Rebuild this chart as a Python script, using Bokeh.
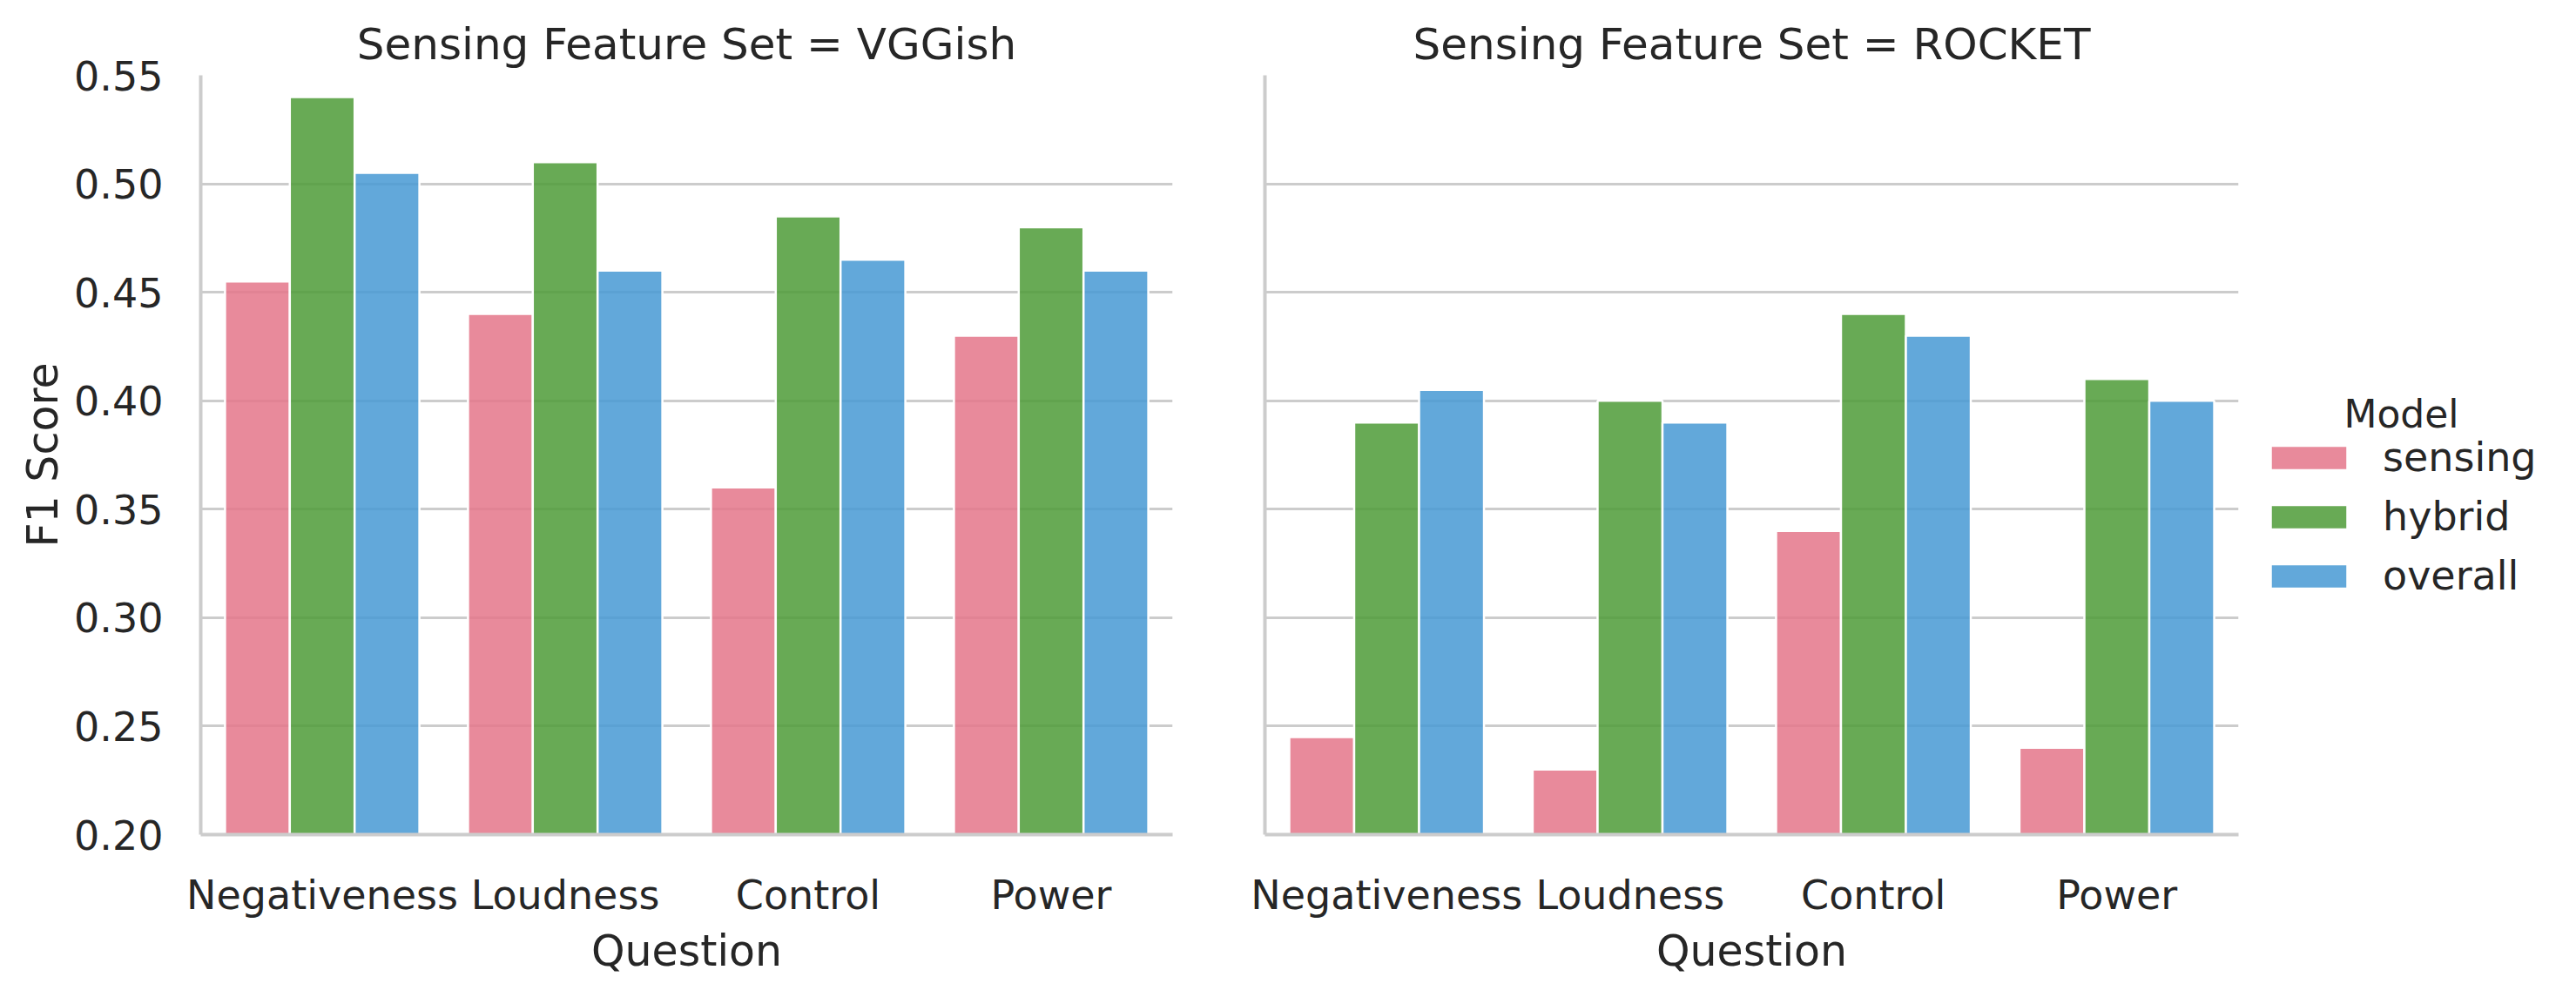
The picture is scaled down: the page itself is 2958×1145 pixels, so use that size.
from bokeh.plotting import figure
from bokeh.layouts import row
from bokeh.models import (ColumnDataSource, FactorRange, FixedTicker, Legend,
                          LegendItem, Label, Range1d)
from bokeh.transform import dodge
from bokeh.embed import file_html
from bokeh.resources import INLINE

# ---------------- data ----------------
questions = ["Negativeness", "Loudness", "Control", "Power"]
models = ["sensing", "hybrid", "overall"]
feature_sets = ["VGGish", "ROCKET"]

vggish_sensing = [0.455, 0.44, 0.36, 0.43]
vggish_hybrid = [0.54, 0.51, 0.485, 0.48]
vggish_overall = [0.505, 0.46, 0.465, 0.46]

rocket_sensing = [0.245, 0.23, 0.34, 0.24]
rocket_hybrid = [0.39, 0.40, 0.44, 0.41]
rocket_overall = [0.405, 0.39, 0.43, 0.40]

y_ticks = [0.20, 0.25, 0.30, 0.35, 0.40, 0.45, 0.50, 0.55]
y_tick_labels = ["0.20", "0.25", "0.30", "0.35", "0.40", "0.45", "0.50", "0.55"]

legend_title = "Model"
model_colors = ["#e4768a", "#4e9b37", "#4799d3"]

# ---------------- style ----------------
FONT = "DejaVu Sans"
TXT = "#262626"
GRID = "#cccccc"
TICK_FS = "46px"
LABEL_FS = "49px"
TITLE_FS = "50px"
H = 1125
B_TOP = 86
B_BOTTOM = 167

data = {
    "VGGish": (vggish_sensing, vggish_hybrid, vggish_overall),
    "ROCKET": (rocket_sensing, rocket_hybrid, rocket_overall),
}

bar_w = 0.8 / len(models)
offsets = [(i - (len(models) - 1) / 2) * bar_w for i in range(len(models))]


def make_panel(fs, first):
    s, h, o = data[fs]
    src = ColumnDataSource(dict(question=questions, sensing=s, hybrid=h, overall=o))
    if first:
        w, bl, br = 1402, 230, 56
    else:
        w, bl, br = 1188, 50, 20
    p = figure(x_range=FactorRange(*questions, range_padding=0),
               y_range=Range1d(0.2, 0.55),
               width=w, height=H,
               min_border_left=bl, min_border_right=br,
               min_border_top=B_TOP, min_border_bottom=B_BOTTOM,
               output_backend="svg", toolbar_location=None,
               title="Sensing Feature Set = " + fs)
    p.title.align = "center"
    p.title.text_font = FONT
    p.title.text_font_size = TITLE_FS
    p.title.text_font_style = "normal"
    p.title.text_color = TXT
    p.title.standoff = 14

    for i, m in enumerate(models):
        p.vbar(x=dodge("question", offsets[i], range=p.x_range), top=m, bottom=0,
               width=bar_w, source=src,
               fill_color=model_colors[i], fill_alpha=0.85,
               line_color="white", line_width=2.5)

    p.outline_line_color = None
    p.background_fill_color = "white"
    p.border_fill_color = "white"
    p.xgrid.grid_line_color = None
    p.ygrid.ticker = FixedTicker(ticks=y_ticks)
    p.ygrid.grid_line_color = GRID
    p.ygrid.grid_line_width = 3

    for ax in (p.xaxis[0], p.yaxis[0]):
        ax.axis_line_color = GRID
        ax.axis_line_width = 4
        ax.major_tick_line_color = None
        ax.minor_tick_line_color = None
        ax.major_tick_out = 0
        ax.major_tick_in = 0
        ax.major_label_text_font = FONT
        ax.major_label_text_font_size = TICK_FS
        ax.major_label_text_color = TXT
        ax.axis_label_text_font = FONT
        ax.axis_label_text_font_size = LABEL_FS
        ax.axis_label_text_font_style = "normal"
        ax.axis_label_text_color = TXT

    p.xaxis.axis_label = "Question"
    p.xaxis.major_label_standoff = 42
    p.xaxis.axis_label_standoff = 6

    p.yaxis.ticker = FixedTicker(ticks=y_ticks)
    if first:
        p.yaxis.major_label_overrides = {t: l for t, l in zip(y_ticks, y_tick_labels)}
        p.yaxis.axis_label = "F1 Score"
        p.yaxis.major_label_standoff = 43
        p.yaxis.axis_label_standoff = 4
    else:
        p.yaxis.major_label_overrides = {t: "" for t in y_ticks}
        p.yaxis.major_label_text_font_size = "0px"
        p.yaxis.major_label_standoff = 0
    return p


p1 = make_panel("VGGish", True)
p2 = make_panel("ROCKET", False)

# ---------------- legend panel ----------------
p3 = figure(width=352, height=H, x_range=Range1d(0, 1), y_range=Range1d(0, 1),
            x_axis_type=None, y_axis_type=None,
            min_border_left=0, min_border_right=0,
            min_border_top=B_TOP, min_border_bottom=B_BOTTOM,
            output_backend="svg", toolbar_location=None)
p3.outline_line_color = None
p3.grid.visible = False
p3.background_fill_color = "white"
p3.border_fill_color = "white"

items = []
for i, m in enumerate(models):
    # legend proxy glyph, kept outside the visible range
    r = p3.vbar(x="x", top="top", width=0.1,
                source=ColumnDataSource(dict(x=[-5.0], top=[0.0])),
                fill_color=model_colors[i], fill_alpha=0.85,
                line_color="white", line_width=2.5)
    items.append(LegendItem(label=m, renderers=[r]))

legend = Legend(items=items, location=(6, 270), orientation="vertical",
                glyph_width=110, glyph_height=35, label_standoff=30,
                label_height=54, spacing=14, padding=0, margin=0,
                border_line_color=None, background_fill_alpha=0,
                label_text_font=FONT, label_text_font_size="46px",
                label_text_color=TXT)
p3.add_layout(legend, "center")

p3.add_layout(Label(x=167, y=483, x_units="screen", y_units="screen",
                    text=legend_title, text_align="center", text_baseline="alphabetic",
                    text_font=FONT, text_font_size="44px", text_color=TXT))

layout = row(p1, p2, p3)
open("out.html", "w").write(file_html(layout, INLINE))
